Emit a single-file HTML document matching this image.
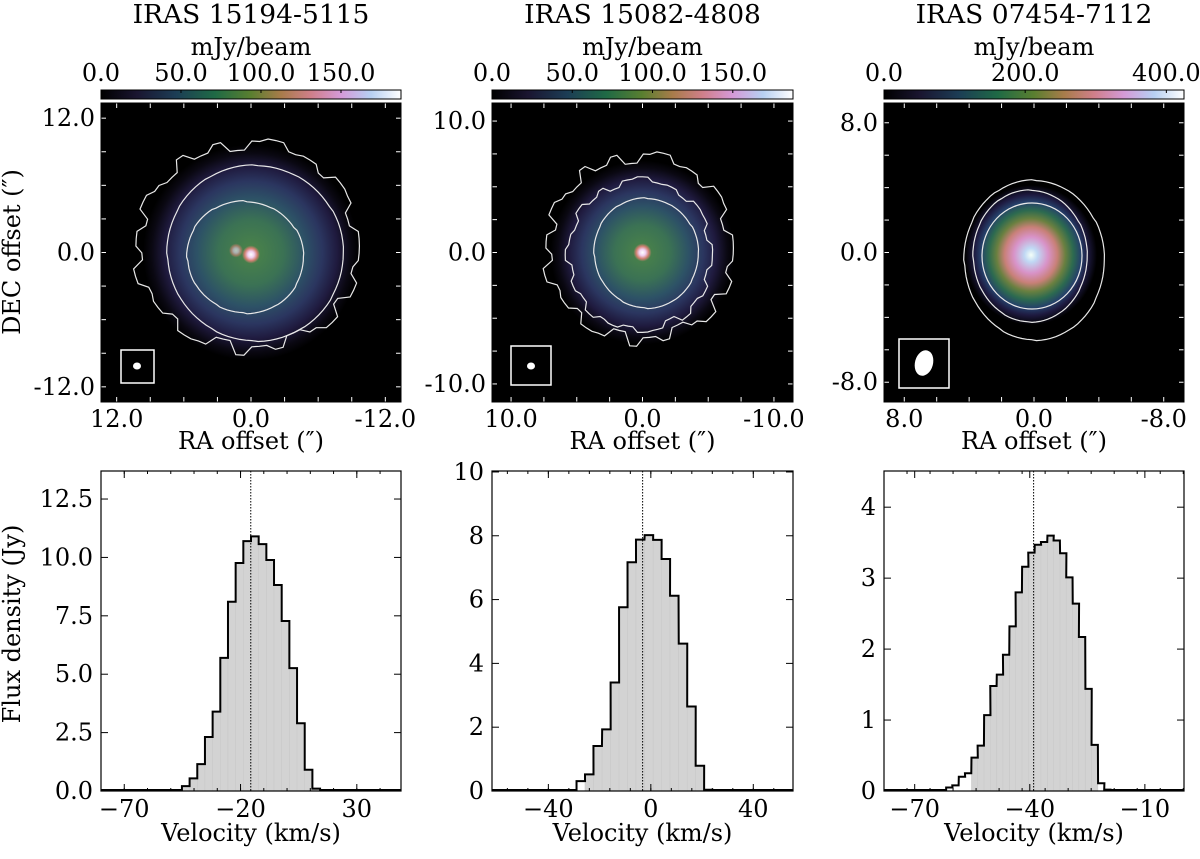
<!DOCTYPE html>
<html><head><meta charset="utf-8"><style>
body{margin:0;background:#fff;}
svg text{font-family:"DejaVu Serif","Liberation Serif",serif;fill:#000;}
</style></head><body>
<svg id="fig" width="1200" height="854" viewBox="0 0 1200 854" xmlns="http://www.w3.org/2000/svg">
<defs>
<linearGradient id="cmap" x1="0" x2="1" y1="0" y2="0">
<stop offset="0" stop-color="#000000"/><stop offset="0.12" stop-color="#1a1530"/><stop offset="0.25" stop-color="#1c3d55"/><stop offset="0.38" stop-color="#1f6a45"/><stop offset="0.5" stop-color="#5a7f30"/><stop offset="0.6" stop-color="#a87c4a"/><stop offset="0.7" stop-color="#d07f8a"/><stop offset="0.8" stop-color="#d49ad8"/><stop offset="0.9" stop-color="#b7d0f2"/><stop offset="1" stop-color="#ffffff"/>
</linearGradient>
<radialGradient id="neb1" cx="0.5" cy="0.5" r="0.5">
<stop offset="0" stop-color="#4c8548"/><stop offset="0.3" stop-color="#3b7254"/><stop offset="0.5" stop-color="#2d5266"/><stop offset="0.66" stop-color="#2b3660"/><stop offset="0.8" stop-color="#1f1a3e"/><stop offset="0.92" stop-color="#0a0812"/><stop offset="1" stop-color="#000"/>
</radialGradient>
<radialGradient id="dot" cx="0.5" cy="0.5" r="0.5">
<stop offset="0" stop-color="#ffffff"/><stop offset="0.35" stop-color="#f0d0f0"/><stop offset="0.7" stop-color="#d07f70"/><stop offset="1" stop-color="#d07f70" stop-opacity="0"/>
</radialGradient>
<radialGradient id="neb3" cx="0.5" cy="0.5" r="0.5">
<stop offset="0" stop-color="#f4fff8"/><stop offset="0.1" stop-color="#c0d8f4"/><stop offset="0.26" stop-color="#d893c8"/><stop offset="0.4" stop-color="#c88078"/><stop offset="0.52" stop-color="#6a8040"/><stop offset="0.64" stop-color="#2c6a50"/><stop offset="0.76" stop-color="#25406a"/><stop offset="0.86" stop-color="#1e1a40"/><stop offset="1" stop-color="#000"/>
</radialGradient>
</defs>
<g id="topPanels"></g>
<g id="bottomPanels"></g>
<text x="20" y="252" font-size="24" text-anchor="middle" transform="rotate(-90 20 252)">DEC offset (″)</text>
<text x="20" y="624" font-size="24" text-anchor="middle" transform="rotate(-90 20 624)">Flux density (Jy)</text>
</svg>
<script>
const vel1 = [-45.2,-41.9,-38.6,-35.3,-32.0,-28.7,-25.4,-22.1,-18.8,-15.5,-12.2,-8.9,-5.6,-2.3,1.0,4.3,7.6,10.9];
const flux1 = [0.21,0.54,1.15,2.31,3.4,5.7,8.1,9.76,10.7,10.9,10.57,9.89,8.82,7.28,5.26,2.9,0.91,0.1];
const vel2 = [-29.0,-25.7,-22.4,-19.0,-15.7,-12.4,-9.1,-5.8,-2.4,0.9,4.2,7.5,10.9,14.2,17.5,20.8];
const flux2 = [0.31,0.52,1.41,1.93,3.4,5.76,7.17,7.88,8.02,7.87,7.27,6.12,4.62,2.65,0.79,0.04];
const vel3 = [-61.8,-60.2,-58.5,-56.9,-55.2,-53.6,-51.9,-50.3,-48.6,-47.0,-45.3,-43.7,-42.0,-40.4,-38.7,-37.1,-35.4,-33.8,-32.1,-30.5,-28.8,-27.2,-25.5,-23.9,-22.2,-20.6];
const flux3 = [0.05,0.08,0.2,0.25,0.47,0.64,1.07,1.48,1.64,1.92,2.32,2.80,3.16,3.36,3.47,3.51,3.60,3.53,3.35,3.01,2.64,2.17,1.44,0.65,0.11,0.02];
const binw = [3.3, 3.32, 1.65];
const vsys = [-15.6, -3.2, -39.0];
const fillLo = [-45.2, -25.7, -55.2];
const fillHi = [14.2, 20.8, -23.9];
const xlim = [[-80,49],[-62,55.5],[-78,0.2]];
const ylim = [[0,13.7],[0,10.03],[0,4.51]];
const xticks = [[-70,-20,30],[-40,0,40],[-70,-40,-10]];
const xminor = [10, 8, 6];
const yticks = [[0,2.5,5,7.5,10,12.5],[0,2,4,6,8,10],[0,1,2,3,4]];
const yfmt = [1,0,0];
const titles = ["IRAS 15194-5115","IRAS 15082-4808","IRAS 07454-7112"];
const cbTickVals = [[0,50,100,150],[0,50,100,150],[0,200,400]];
const cbMax = [187.5,187.5,425];
const posTicks = [[12,0,-12],[10,0,-10],[8,0,-8]];
const posRange = [13.4, 11.45, 9.25];
const posStep = [3, 2.5, 2];

const NS="http://www.w3.org/2000/svg";
const FS=24;
function mk(tag,attrs,parent){const e=document.createElementNS(NS,tag);for(const k in attrs)e.setAttribute(k,attrs[k]);parent.appendChild(e);return e;}
const topG=document.getElementById('topPanels'), botG=document.getElementById('bottomPanels');
const panelX=[[101,401],[492,793],[884,1184]];
const vels=[vel1,vel2,vel3], fluxes=[flux1,flux2,flux3];
const names=["iras15194","iras15082","iras07454"];

function wobble(cx,cy,rx,ry,amp,seedArr){
  let d="";const n=seedArr.length;
  for(let i=0;i<=90;i++){const t=i/90*2*Math.PI;const k=seedArr[Math.floor(i/90*n)%n];
    const x=cx+(rx+amp*k)*Math.cos(t), y=cy+(ry+amp*k)*Math.sin(t);d+=(i?"L":"M")+x.toFixed(1)+","+y.toFixed(1);}
  return d+"Z";
}
const shp=[0.2,-0.4,0.8,-0.6,1,0.1,-0.9,0.5,-0.3,0.9,-1,0.4,0.6,-0.7,0.2,-0.2,1,-0.5,0.3,-0.8,0.7,0,-0.6,0.9,-0.4,0.5,-1,0.3,0.8,-0.2,0.1,-0.7,0.6,0.4,-0.9,0.2];
const smooth=[0.1,0.3,0.2,-0.1,-0.3,-0.2,0.1,0.3,0.1,-0.2,-0.1,0.2];
for(let p=0;p<3;p++){
  const [x0,x1]=panelX[p], y0=103, y1=402, w=x1-x0, h=y1-y0;
  const g=mk('g',{},topG);
  
  
  const t=mk('text',{x:(x0+x1)/2,y:23,'font-size':26.5,'text-anchor':'middle'},g);t.textContent=titles[p];
  
  
  const cl=mk('text',{x:(x0+x1)/2,y:55,'font-size':FS,'text-anchor':'middle'},g);cl.textContent='mJy/beam';
  
  
  const cb=mk('rect',{x:x0,y:90,width:w,height:9,fill:'url(#cmap)',stroke:'#000','stroke-width':1},g);
  
  
  cbTickVals[p].forEach(v=>{const x=x0+v/cbMax[p]*w;mk('line',{x1:x,x2:x,y1:90,y2:93,stroke:'#000'},g);
    const tt=mk('text',{x:x,y:81,'font-size':FS,'text-anchor':'middle'},g);tt.textContent=v.toFixed(1);
    
    });
  const img=mk('rect',{x:x0,y:y0,width:w,height:h,fill:'#000'},g);
  
  
  const s=w/(2*posRange[p]);const cx=(x0+x1)/2, cy=(y0+y1)/2;
  if(p<2){
    const R=p==0?108:92;
    mk('circle',{cx:cx,cy:cy,r:R,fill:'url(#neb1)'},g);
    const dy=p==0?2:0;
    if(p==0) mk('circle',{cx:cx-15,cy:cy-2,r:7,fill:'url(#dot)',opacity:0.6},g);
    mk('circle',{cx:cx,cy:cy+dy,r:9,fill:'url(#dot)'},g);
    const C=mk('g',{fill:'none',stroke:'#e8e8e8','stroke-width':1.2},g);
    
    
    if(p==0){
      mk('path',{d:wobble(245,257,58,56,4,smooth)},C);
      mk('path',{d:wobble(255,253,88,88,3,smooth)},C);
      mk('path',{d:wobble(248,246,110,103,7,shp)},C);
    }else{
      mk('path',{d:wobble(646,253,52,55,3,smooth)},C);
      mk('path',{d:wobble(640,255,72,75,4,shp.slice(5))},C);
      mk('path',{d:wobble(640,248,92,92,7,shp)},C);
    }
  }else{
    mk('ellipse',{cx:1031,cy:255,rx:66,ry:70,fill:'url(#neb3)'},g);
    const C=mk('g',{fill:'none',stroke:'#e8e8e8','stroke-width':1.2},g);
    
    
    mk('ellipse',{cx:1032,cy:256,rx:50,ry:53},C);
    mk('path',{d:wobble(1030,256,57,66,2,smooth)},C);
    mk('path',{d:wobble(1034,260,70,80,3,smooth)},C);
  }
  const bb=p==0?[121,350,33,33,137,366,4,3.5,0]:p==1?[511,346,40,39,531,366,4,3.5,0]:[899,339,50,49,924,363,9,13,15];
  const bg=mk('g',{},g);
  
  
  mk('rect',{x:bb[0],y:bb[1],width:bb[2],height:bb[3],fill:'none',stroke:'#fff','stroke-width':1.5},bg);
  mk('ellipse',{cx:bb[4],cy:bb[5],rx:bb[6],ry:bb[7],fill:'#fff',transform:`rotate(${bb[8]} ${bb[4]} ${bb[5]})`},bg);
  for(let v=-Math.floor(posRange[p]/posStep[p])*posStep[p];v<=posRange[p];v+=posStep[p]){
    const x=cx-v*s, y=cy-v*s;
    mk('line',{x1:x,x2:x,y1:y0,y2:y0+5,stroke:'#fff'},g);mk('line',{x1:x,x2:x,y1:y1,y2:y1-5,stroke:'#fff'},g);
    mk('line',{x1:x0,x2:x0+5,y1:y,y2:y,stroke:'#fff'},g);mk('line',{x1:x1,x2:x1-5,y1:y,y2:y,stroke:'#fff'},g);
  }
  posTicks[p].forEach(v=>{
    const tx=mk('text',{x:cx-v*s,y:y1+25,'font-size':FS,'text-anchor':'middle'},g);tx.textContent=v.toFixed(1);
    
    
    const ty=mk('text',{x:x0-6,y:cy-v*s+8,'font-size':FS,'text-anchor':'end'},g);ty.textContent=v.toFixed(1);
    
    
  });
  mk('rect',{x:x0,y:y0,width:w,height:h,fill:'none',stroke:'#000','stroke-width':1},g);
  const ra=mk('text',{x:(x0+x1)/2,y:449,'font-size':FS,'text-anchor':'middle'},g);ra.textContent='RA offset (″)';
  
  
}

for(let p=0;p<3;p++){
  const [x0,x1]=panelX[p], y0=471, y1=791;
  const [a,b]=xlim[p], [c,d]=ylim[p];
  const X=v=>x0+(v-a)/(b-a)*(x1-x0), Y=v=>y1-(v-c)/(d-c)*(y1-y0);
  const g=mk('g',{},botG);
  
  
  const vv=vels[p], ff=fluxes[p], bw=binw[p];
  for(let i=0;i<vv.length;i++){
    if(vv[i]<fillLo[p]-0.01||vv[i]>fillHi[p]+0.01) continue;
    const r=mk('rect',{x:X(vv[i]),y:Y(ff[i]),width:X(vv[i]+bw)-X(vv[i]),height:Y(0)-Y(ff[i]),fill:'#d3d3d3',stroke:'#c8c8c8','stroke-width':0.5},g);
    
    
  }
  let dstr="M"+x0+","+(Y(0)-1)+"L"+X(vv[0])+","+(Y(0)-1);
  for(let i=0;i<vv.length;i++){dstr+="L"+X(vv[i])+","+Y(ff[i])+"L"+X(vv[i]+bw)+","+Y(ff[i]);}
  dstr+="L"+X(vv[vv.length-1]+bw)+","+(Y(0)-1)+"L"+x1+","+(Y(0)-1);
  const st=mk('path',{d:dstr,fill:'none',stroke:'#000','stroke-width':2},g);
  
  
  const vl=mk('line',{x1:X(vsys[p]),x2:X(vsys[p]),y1:y0,y2:y1,stroke:'#000','stroke-width':1,'stroke-dasharray':'1.5,1.5'},g);
  
  
  mk('rect',{x:x0,y:y0,width:x1-x0,height:y1-y0,fill:'none',stroke:'#000','stroke-width':1.2},g);
  const m=xminor[p];
  for(let v=Math.ceil(a/m)*m;v<=b;v+=m){const x=X(v);mk('line',{x1:x,x2:x,y1:y1,y2:y1-3,stroke:'#000'},g);mk('line',{x1:x,x2:x,y1:y0,y2:y0+3,stroke:'#000'},g);}
  xticks[p].forEach(v=>{const x=X(v);mk('line',{x1:x,x2:x,y1:y1,y2:y1-7,stroke:'#000'},g);mk('line',{x1:x,x2:x,y1:y0,y2:y0+7,stroke:'#000'},g);
    const t=mk('text',{x:x,y:y1+26,'font-size':FS,'text-anchor':'middle'},g);t.textContent=(v<0?'\u2212':'')+Math.abs(v);
    
    });
  yticks[p].forEach(v=>{const y=Y(v);mk('line',{x1:x0,x2:x0+7,y1:y,y2:y,stroke:'#000'},g);mk('line',{x1:x1,x2:x1-7,y1:y,y2:y,stroke:'#000'},g);
    const t=mk('text',{x:x0-8,y:y+8,'font-size':FS,'text-anchor':'end'},g);t.textContent=v.toFixed(yfmt[p]);
    
    });
  const xl=mk('text',{x:(x0+x1)/2,y:841,'font-size':FS,'text-anchor':'middle'},g);xl.textContent='Velocity (km/s)';
  
  
}
</script>
</body></html>
